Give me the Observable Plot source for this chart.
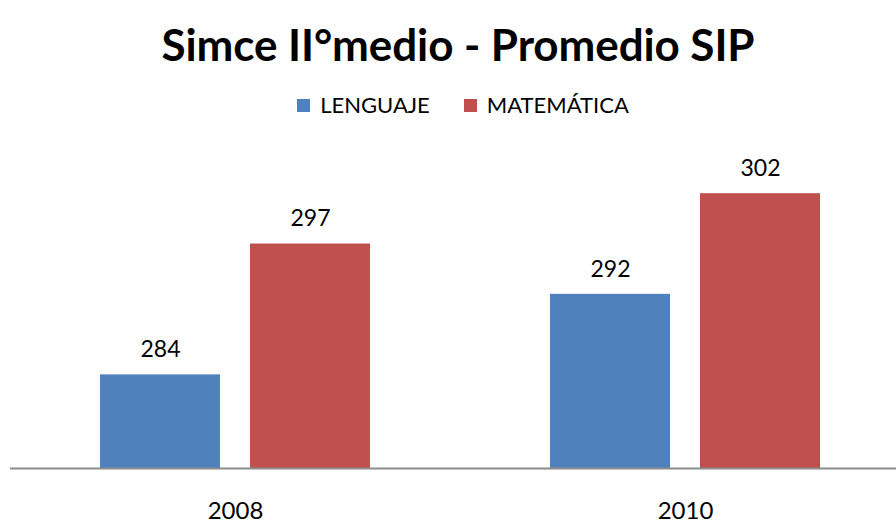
<!DOCTYPE html>
<html>
<head>
<meta charset="utf-8">
<script src="https://cdn.jsdelivr.net/npm/d3@7"></script>
<script src="https://cdn.jsdelivr.net/npm/@observablehq/plot@0.6"></script>
<style>
  html, body { margin: 0; padding: 0; background: #fff; }
  body { width: 896px; height: 525px; overflow: hidden; font-family: Lato, "Open Sans", sans-serif; color: #000; }
  #title { height: 88px; line-height: 88px; text-align: center; font-size: 44px; font-weight: bold; letter-spacing: -0.1px; padding-left: 20px; }
  #legend { height: 34px; line-height: 34px; display: flex; justify-content: center; align-items: center; font-size: 22px; padding-left: 30px; }
  .item { display: flex; align-items: center; margin: 0 17px; }
  .sw { width: 13px; height: 13px; margin-right: 10px; display: inline-block; }
  svg { display: block; }
</style>
</head>
<body>
<div id="title">Simce II°medio - Promedio SIP</div>
<div id="legend"></div>
<div id="chart"></div>
<script>
const years = ["2008", "2010"];
const series = ["LENGUAJE", "MATEMÁTICA"];
const lenguaje = [284, 292];
const matematica = [297, 302];
const colors = ["#4F81BD", "#C0504D"];
const yMin = 274.7;

const data = [];
years.forEach((yr, i) => {
  data.push({year: yr, series: series[0], value: lenguaje[i]});
  data.push({year: yr, series: series[1], value: matematica[i]});
});

const legend = document.getElementById("legend");
series.forEach((s, i) => {
  const it = document.createElement("div");
  it.className = "item";
  const sw = document.createElement("span");
  sw.className = "sw";
  sw.style.background = colors[i];
  it.appendChild(sw);
  it.appendChild(document.createTextNode(s));
  legend.appendChild(it);
});

const chart = Plot.plot({
  width: 896,
  height: 403,
  marginTop: 41,
  marginBottom: 57,
  marginLeft: 10,
  marginRight: 0,
  style: {fontFamily: "Lato, 'Open Sans', sans-serif", fontSize: "24px", color: "#000", background: "#fff"},
  facet: {data, x: "year"},
  fx: {domain: years, range: [10, 910], padding: 0, axis: "bottom", tickSize: 0, tickPadding: 33, label: null},
  x: {domain: series, paddingInner: 0.2, paddingOuter: 0.6, axis: null},
  y: {domain: [yMin, 305], axis: null},
  color: {domain: series, range: colors},
  marks: [
    Plot.barY(data, {x: "series", y1: yMin, y2: "value", fill: "series"}),
    Plot.text(data, {x: "series", y: "value", text: d => String(d.value), dy: -25, fontSize: 23, fill: "#000"}),
    Plot.ruleY([yMin], {stroke: "#8c8c8c", strokeWidth: 2})
  ]
});
document.getElementById("chart").appendChild(chart);
</script>
</body>
</html>
